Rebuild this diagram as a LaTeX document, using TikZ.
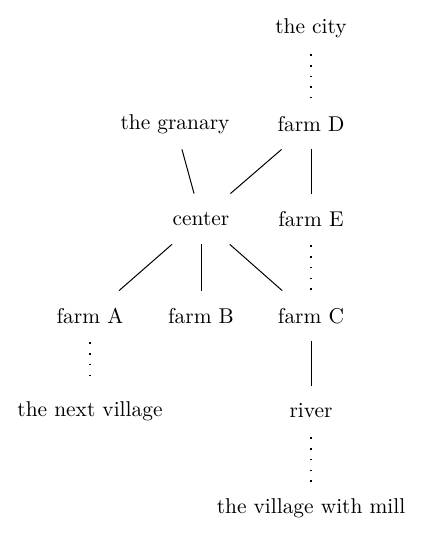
\documentclass[tikz,border=0pt]{standalone}
\begin{document}
\begin{tikzpicture}[x=0.5pt,y=-0.5pt,
  every node/.style={minimum height=25pt, inner sep=3pt, font=\fontsize{10.7}{13}\selectfont},
  solidedge/.style={draw, line width=0.5pt},
  dotedge/.style={draw, line width=0.8pt, dash pattern=on 0.8pt off 4.55pt, shorten <=0.5pt, shorten >=0.3pt}]
\useasboundingbox (0,0) rectangle (423,539);
\node (city) at (311,28) {the city};
\node (D) at (311,124) {farm D};
\node (gran) at (175,124) {the granary};
\node (cen) at (201,219) {center};
\node (E) at (311,219) {farm E};
\node (A) at (90,316) {farm A};
\node (B) at (201,316) {farm B};
\node (C) at (311,316) {farm C};
\node (next) at (90,411) {the next village};
\node (river) at (311,411) {river};
\node (mill) at (311,508) {the village with mill};
\path[dotedge] (city) -- (D);
\path[solidedge] (gran) -- (cen);
\path[solidedge] (D) -- (cen);
\path[solidedge] (D) -- (E);
\path[dotedge] (E) -- (C);
\path[solidedge] (cen) -- (A);
\path[solidedge] (cen) -- (B);
\path[solidedge] (cen) -- (C);
\path[dotedge] (A) -- (next);
\path[solidedge] (C) -- (river);
\path[dotedge] (river) -- (mill);
\end{tikzpicture}
\end{document}
